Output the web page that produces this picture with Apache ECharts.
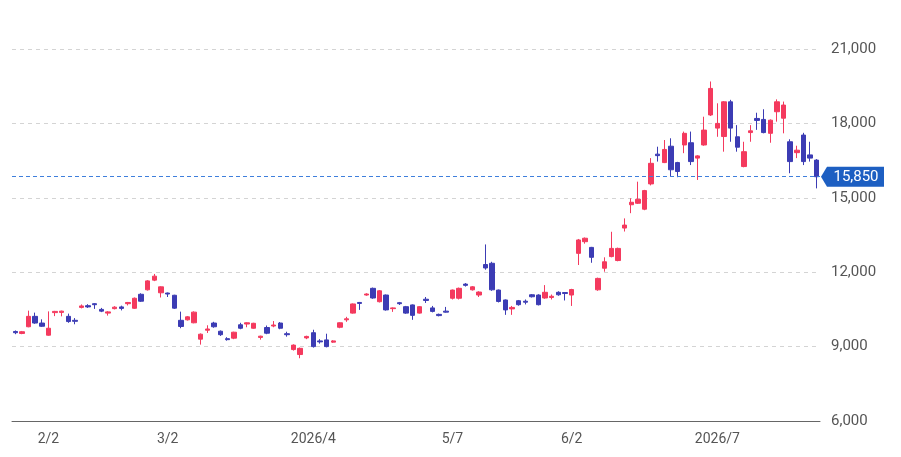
<!DOCTYPE html>
<html>
<head>
<meta charset="utf-8">
<script src="https://cdn.jsdelivr.net/npm/echarts@6/dist/echarts.min.js"></script>
<style>
html,body{margin:0;padding:0;background:#fff;}
#chart{width:901px;height:457px;}
</style>
</head>
<body>
<div id="chart"></div>
<script>
const dates = [
'2026-01-26','2026-01-27','2026-01-28','2026-01-29','2026-01-30',
'2026-02-02','2026-02-03','2026-02-04','2026-02-05','2026-02-06','2026-02-09','2026-02-10','2026-02-12','2026-02-13',
'2026-02-16','2026-02-17','2026-02-18','2026-02-19','2026-02-20','2026-02-24','2026-02-25','2026-02-26','2026-02-27',
'2026-03-02','2026-03-03','2026-03-04','2026-03-05','2026-03-06','2026-03-09','2026-03-10','2026-03-11','2026-03-12','2026-03-13',
'2026-03-16','2026-03-17','2026-03-18','2026-03-19','2026-03-23','2026-03-24','2026-03-25','2026-03-26','2026-03-27','2026-03-30','2026-03-31',
'2026-04-01','2026-04-02','2026-04-03','2026-04-06','2026-04-07','2026-04-08','2026-04-09','2026-04-10','2026-04-13','2026-04-14',
'2026-04-15','2026-04-16','2026-04-17','2026-04-20','2026-04-21','2026-04-22','2026-04-23','2026-04-24','2026-04-27','2026-04-28','2026-04-30',
'2026-05-01','2026-05-07','2026-05-08','2026-05-11','2026-05-12','2026-05-13','2026-05-14','2026-05-15','2026-05-18','2026-05-19',
'2026-05-20','2026-05-21','2026-05-22','2026-05-25','2026-05-26','2026-05-27','2026-05-28','2026-05-29',
'2026-06-01','2026-06-02','2026-06-03','2026-06-04','2026-06-05','2026-06-08','2026-06-09','2026-06-10','2026-06-11','2026-06-12',
'2026-06-15','2026-06-16','2026-06-17','2026-06-18','2026-06-19','2026-06-22','2026-06-23','2026-06-24','2026-06-25','2026-06-26','2026-06-29','2026-06-30',
'2026-07-01','2026-07-02','2026-07-03','2026-07-06','2026-07-07','2026-07-08','2026-07-09','2026-07-10','2026-07-13','2026-07-14',
'2026-07-15','2026-07-16','2026-07-17','2026-07-21','2026-07-22','2026-07-23','2026-07-24'
];

const opens = [
9610,9530,9800,10220,9950,
9460,10370,10380,10220,10060,10580,10650,10730,10500,10350,10530,10600,10730,10545,11110,11290,11680,11170,
11160,11070,10060,10080,9960,9300,9660,9950,9620,9320,9340,9880,9910,9740,9370,9770,9830,9950,9520,8880,8680,
9350,9560,9230,9270,9180,9780,10080,10350,10780,11080,11350,10810,11080,10530,10770,10610,10680,10350,10910,10560,10300,
10430,10950,10950,11520,11290,11080,12310,12360,11280,10880,10520,10850,10830,11090,11080,10960,10980,11190,
11180,11080,12760,13230,13000,11290,12160,12630,12470,13780,14720,14780,14540,15560,16760,16420,17080,16420,17130,17220,16600,17130,
18340,17810,17470,18870,17460,16260,17630,18200,18160,17600,18470,18210,17260,16820,17530,16730,16520
];
const closes = [
9560,9600,10220,9950,9820,
9740,10420,10430,10010,10020,10640,10600,10690,10430,10400,10590,10540,10780,10950,10830,11650,11840,11410,
11120,10550,9810,10200,10390,9500,9710,9800,9480,9280,9580,9740,9960,9940,9420,9540,9870,9740,9480,9060,8930,
9410,9000,9190,9000,9230,9960,10120,10720,10740,11120,10960,11250,10480,10560,10730,10350,10260,10610,10860,10420,10250,
10390,11280,11350,11470,11410,11200,12170,11290,10820,10480,10580,10690,10790,11010,10690,11190,11030,11090,
11140,11300,13300,13370,12600,11750,12420,12960,12960,13900,14820,14940,15290,16390,16700,16950,16130,16060,17600,16460,16690,17730,
19410,18000,18870,17810,17040,16860,17700,18120,17630,18130,18870,18740,16460,16920,16460,16600,15850
];
const lows = [
9500,9500,9780,9920,9790,
9440,10230,10220,9960,9900,10540,10560,10520,10390,10250,10500,10460,10660,10520,10800,11260,11640,10980,
11000,10520,9740,10050,9940,9080,9550,9760,9430,9240,9300,9700,9780,9720,9280,9500,9780,9700,9400,8840,8530,
9300,8960,9120,8970,9150,9740,10000,10330,10480,11050,10930,10780,10450,10400,10680,10320,10080,10330,10760,10380,10220,
10370,10900,10900,11420,11260,11000,12100,11250,10780,10280,10280,10650,10700,10980,10660,10930,10900,11050,
10860,10640,12290,13150,12380,11250,12020,12600,12440,13640,14380,14750,14500,15500,16460,16400,15860,15830,16800,16320,15720,17100,
18300,17460,16860,17260,16860,16230,17260,17740,17600,17220,18070,17600,15990,16600,16320,16460,15380
];
const highs = [
9650,9630,10450,10370,10100,
10420,10440,10450,10330,10150,10700,10710,10750,10560,10430,10630,10650,10800,10980,11150,11680,11930,11430,
11180,11090,10410,10230,10420,9530,9860,10000,9650,9380,9600,9960,9980,9960,9440,9850,10030,9990,9600,9090,8960,
9440,9680,9300,9520,9260,9980,10200,10740,10800,11150,11380,11280,11100,10580,10800,10640,10700,10630,11000,10640,10330,
10600,11300,11380,11560,11440,11230,13120,12420,11300,10900,10640,10880,10900,11120,11110,11480,11100,11230,
11200,11330,13340,13400,13020,11780,12600,13630,12990,14170,14980,15650,15320,16600,17060,17330,17400,16450,17670,17670,16720,18270,
19690,18810,18900,18950,17930,17260,17930,18430,18570,18160,18970,18880,17360,17100,17620,17260,16560
];

// x-axis tick label dates (first session of the month from the 2nd on)
const labelDates = ['2026-02-02','2026-03-02','2026-04-02','2026-05-07','2026-06-02','2026-07-02'];
// y-axis scale
const yMin = 6000, yMax = 21000, yStep = 3000;

const UP = '#f43a5e';
const DOWN = '#3c3cb4';
const TAG = '#1d5fc2';
const FONT = 'Roboto, "Liberation Sans", Arial, sans-serif';

const candles = dates.map((d, i) => [opens[i], closes[i], lows[i], highs[i]]);
const lastClose = closes[closes.length - 1];

const chart = echarts.init(document.getElementById('chart'), null, {renderer: 'canvas'});
const GRID = {left: 12, right: 81, top: 49, bottom: 36};

chart.setOption({
  animation: false,
  backgroundColor: '#ffffff',
  textStyle: {fontFamily: FONT},
  grid: GRID,
  xAxis: {
    type: 'category',
    data: dates,
    boundaryGap: true,
    axisLine: {lineStyle: {color: '#666', width: 1}},
    axisTick: {show: false},
    splitLine: {show: false},
    axisLabel: {
      interval: (idx, val) => labelDates.indexOf(val) >= 0,
      formatter: (val) => {
        const [y, m, d] = val.split('-').map(Number);
        return (m === 1 || m === 4 || m === 7 || m === 10) ? (y + '/' + m) : (m + '/' + d);
      },
      color: '#555',
      fontSize: 14,
      margin: 11,
      fontFamily: FONT
    }
  },
  yAxis: {
    type: 'value',
    position: 'right',
    min: yMin,
    max: yMax,
    interval: yStep,
    scale: true,
    axisLine: {show: false},
    axisTick: {show: false},
    splitLine: {lineStyle: {color: '#d4d4d4', type: [4, 4], width: 1}},
    axisLabel: {
      color: '#555',
      fontSize: 15,
      margin: 11,
      fontFamily: FONT,
      formatter: (v) => v.toLocaleString('en-US')
    }
  },
  series: [{
    type: 'candlestick',
    data: candles,
    barWidth: '74%',
    itemStyle: {
      color: UP,
      color0: DOWN,
      borderColor: UP,
      borderColor0: DOWN,
      borderWidth: 1
    },
    markLine: {
      silent: true,
      symbol: ['none', 'none'],
      label: {show: false},
      lineStyle: {color: '#3f7fdc', type: [4, 3], width: 1, opacity: 1},
      data: [{yAxis: lastClose}]
    }
  }]
});

// price tag at the right axis, positioned through the y scale
const py = chart.convertToPixel({yAxisIndex: 0}, lastClose);
const gx = chart.getWidth() - GRID.right;
chart.setOption({
  graphic: [{
    type: 'group',
    children: [
      {
        type: 'polygon',
        shape: {points: [[gx + 1, py], [gx + 7, py - 10], [gx + 64, py - 10], [gx + 64, py + 10], [gx + 7, py + 10]]},
        style: {fill: TAG}
      },
      {
        type: 'text',
        x: gx + 36,
        y: py + 1,
        style: {
          text: lastClose.toLocaleString('en-US'),
          fill: '#ffffff',
          font: '15px ' + FONT,
          textAlign: 'center',
          textVerticalAlign: 'middle'
        }
      }
    ]
  }]
});
</script>
</body>
</html>
